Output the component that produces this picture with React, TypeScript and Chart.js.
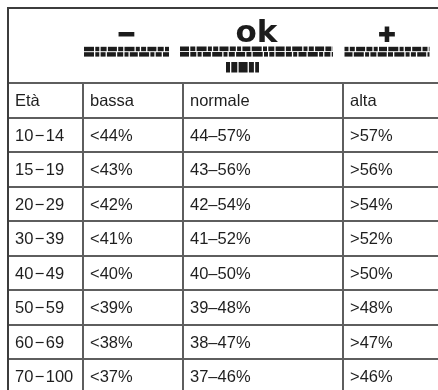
import React, { useEffect, useRef } from "react";
import { Chart, registerables } from "chart.js";

Chart.register(...registerables);

// ---- data ----
const headerSymbols = ["\u2212", "ok", "+"];
const columnTitles = ["Età", "bassa", "normale", "alta"];
const ageFrom = [10, 15, 20, 30, 40, 50, 60, 70];
const ageTo = [14, 19, 29, 39, 49, 59, 69, 100];
const lowerLimits = [44, 43, 42, 41, 40, 39, 38, 37];
const upperLimits = [57, 56, 54, 52, 50, 48, 47, 46];

const ageLabels = ageFrom.map((a, i) => `${a}\u200A\u2212\u200A${ageTo[i]}`);
const lowLabels = lowerLimits.map((v) => `<${v}%`);
const normalLabels = lowerLimits.map((v, i) => `${v}\u2013${upperLimits[i]}%`);
const highLabels = upperLimits.map((v) => `>${v}%`);

// ---- layout (table units, origin = table's top-left corner) ----
const W = 438;
const H = 390;
const ORIGIN_X = 8;
const ORIGIN_Y = 8;
const COL_EDGES = [0, 75, 175, 335, 436];
const HEADER_HEIGHT = 75;
const ROW_HEIGHT = 34.5;
const CELL_PAD = 7;
const SYMBOL_CENTER_Y = 25.5;
const BLOCK_PATTERN = [10, 4, 6, 9, 5, 10, 4, 5, 9, 6, 4, 8];
// header decoration: per symbol column, block rows (width, top, height, x offset)
const HEADER_ROWS = [
  [{ w: 85, t: 38.8, h: 4.4, dx: 0 }, { w: 85, t: 44.2, h: 4.4, dx: 0 }],
  [
    { w: 153, t: 38.5, h: 4.6, dx: 0 },
    { w: 153, t: 44, h: 4.6, dx: 0 },
    { w: 33, t: 54, h: 10.5, dx: -14 },
  ],
  [{ w: 85, t: 38.8, h: 4.4, dx: 0 }, { w: 85, t: 44.2, h: 4.4, dx: 0 }],
];

const tablePlugin = {
  id: "tableGrid",
  afterDraw(chart: any) {
    const { ctx } = chart;
    const xs = chart.scales.x;
    const ys = chart.scales.y;
    const px = (v: number) => xs.getPixelForValue(v);
    const py = (v: number) => ys.getPixelForValue(v);

    const rowEdges: number[] = [0, HEADER_HEIGHT];
    const body = [columnTitles];
    ageLabels.forEach((_, i) =>
      body.push([ageLabels[i], lowLabels[i], normalLabels[i], highLabels[i]])
    );
    body.forEach((_, r) => rowEdges.push(HEADER_HEIGHT + ROW_HEIGHT * (r + 1)));
    const bottom = rowEdges[rowEdges.length - 1];
    const right = COL_EDGES[COL_EDGES.length - 1];

    ctx.save();
    // horizontal lines
    ctx.lineWidth = 2;
    rowEdges.forEach((e, i) => {
      ctx.strokeStyle = i === 0 ? "#3c3c3c" : "#5e5e5e";
      const y = Math.round(py(e));
      ctx.beginPath();
      ctx.moveTo(px(0) - 1, y);
      ctx.lineTo(px(right) + 1, y);
      ctx.stroke();
    });
    // vertical lines
    COL_EDGES.forEach((e, i) => {
      const outer = i === 0 || i === COL_EDGES.length - 1;
      ctx.strokeStyle = i === 0 ? "#3c3c3c" : "#5e5e5e";
      const x = Math.round(px(e));
      ctx.beginPath();
      ctx.moveTo(x, py(outer ? 0 : HEADER_HEIGHT) - 1);
      ctx.lineTo(x, py(bottom) + 1);
      ctx.stroke();
    });

    // header symbols + block decoration
    ctx.fillStyle = "#1c1c1c";
    ctx.strokeStyle = "#1c1c1c";
    headerSymbols.forEach((s, k) => {
      const c0 = COL_EDGES[k + 1];
      const c1 = COL_EDGES[k + 2];
      const cx = (c0 + c1) / 2 - 6.5;
      ctx.textAlign = "center";
      ctx.textBaseline = "alphabetic";
      if (s.length > 1) {
        ctx.font = "bold 31px 'DejaVu Sans', sans-serif";
        ctx.fillText(s, px(cx), py(34));
      } else {
        ctx.font = "bold 22px 'DejaVu Sans', sans-serif";
        const m = ctx.measureText(s);
        const base =
          py(SYMBOL_CENTER_Y) + (m.actualBoundingBoxAscent - m.actualBoundingBoxDescent) / 2;
        ctx.lineWidth = 2;
        ctx.lineJoin = "miter";
        ctx.fillText(s, px(cx), base);
        ctx.strokeText(s, px(cx), base);
      }
      HEADER_ROWS[k].forEach((row, ri) => {
        const rc = cx + row.dx;
        let x = rc - row.w / 2;
        const end = rc + row.w / 2;
        let pi = (ri * 5 + k * 3) % BLOCK_PATTERN.length;
        while (x < end) {
          const bw = Math.min(BLOCK_PATTERN[pi], end - x);
          const x0 = px(x);
          const x1 = px(x + bw);
          const y0 = py(row.t);
          const y1 = py(row.t + row.h);
          ctx.fillRect(x0, y0, x1 - x0, y1 - y0);
          x += bw + 1.3;
          pi = (pi + 1) % BLOCK_PATTERN.length;
        }
      });
    });

    // body text
    ctx.font = "16.5px 'Liberation Sans', Arial, sans-serif";
    ctx.textAlign = "left";
    ctx.textBaseline = "alphabetic";
    ctx.fillStyle = "#1e1e1e";
    body.forEach((cells, r) => {
      const top = rowEdges[r + 1];
      const mid = top + ROW_HEIGHT / 2;
      cells.forEach((t, c) => {
        ctx.fillText(t, px(COL_EDGES[c]) + CELL_PAD, py(mid) + 6);
      });
    });
    ctx.restore();
  },
};

export default function App() {
  const ref = useRef<HTMLCanvasElement>(null);
  useEffect(() => {
    if (!ref.current) return;
    const chart = new Chart(ref.current, {
      type: "scatter",
      data: { datasets: [] },
      options: {
        animation: false,
        responsive: false,
        events: [],
        layout: { padding: 0 },
        plugins: { legend: { display: false }, tooltip: { enabled: false }, title: { display: false } },
        scales: {
          x: { type: "linear", display: false, min: -ORIGIN_X, max: W - ORIGIN_X },
          y: { type: "linear", display: false, reverse: true, min: -ORIGIN_Y, max: H - ORIGIN_Y },
        },
      },
      plugins: [tablePlugin],
    });
    return () => chart.destroy();
  }, []);
  return (
    <canvas
      ref={ref}
      width={W}
      height={H}
      style={{ position: "fixed", left: 0, top: 0, width: W, height: H, display: "block" }}
    />
  );
}
